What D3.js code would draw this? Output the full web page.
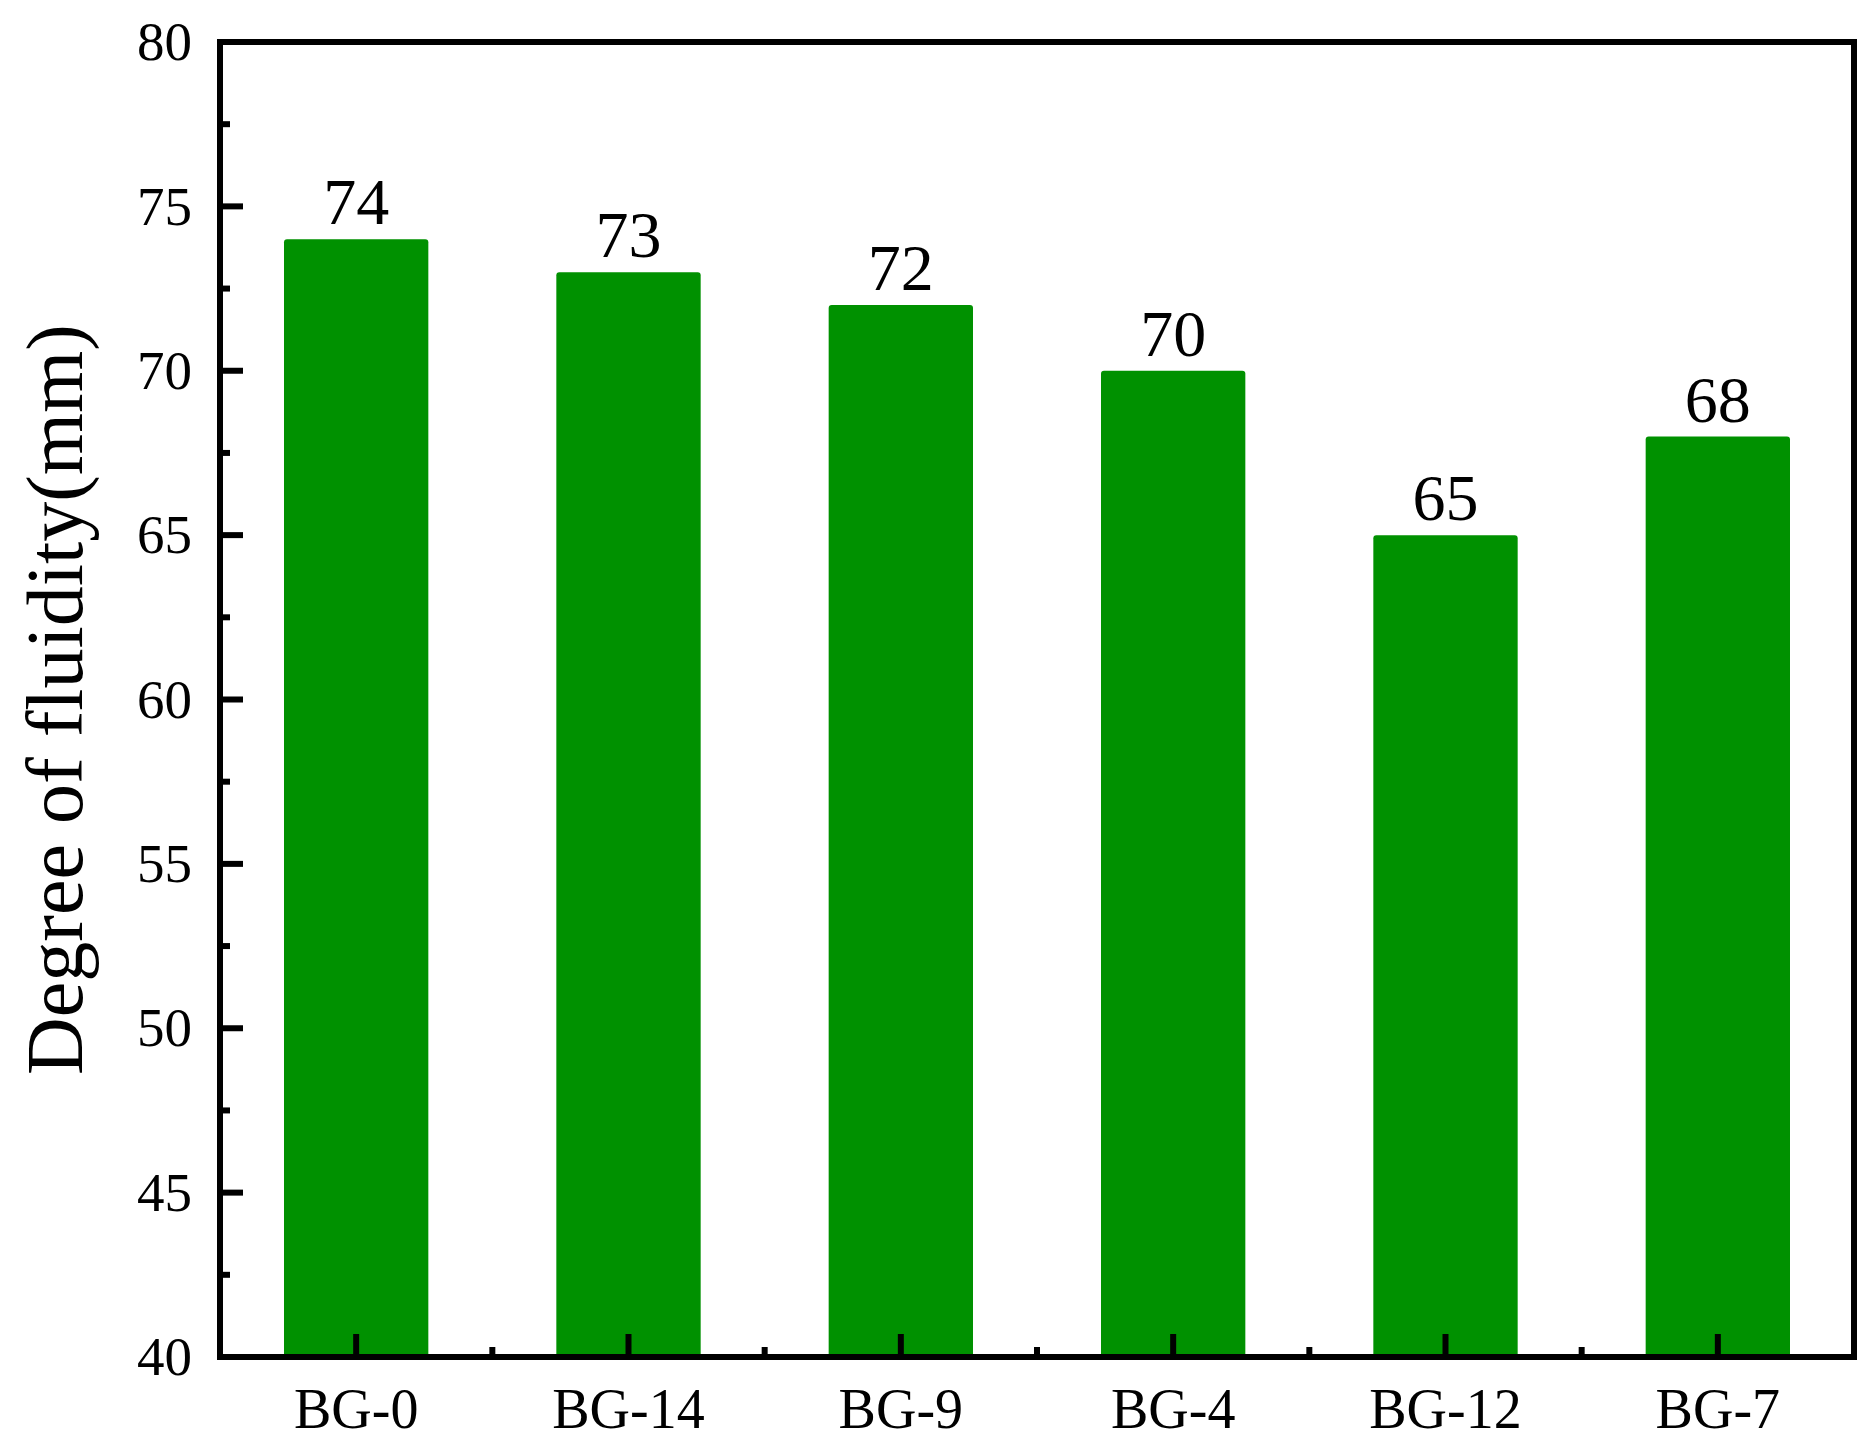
<!DOCTYPE html>
<html>
<head>
<meta charset="utf-8">
<script src="https://cdn.jsdelivr.net/npm/d3@7"></script>
<style>
  body { margin: 0; background: #fff; }
  text { font-family: "Liberation Serif", "Times New Roman", serif; fill: #000; }
</style>
</head>
<body>
<svg id="chart" width="1876" height="1451"></svg>
<script>
const categories = ['BG-0', 'BG-14', 'BG-9', 'BG-4', 'BG-12', 'BG-7'];
const fluidity = [74, 73, 72, 70, 65, 68];
const yTicks = [40, 45, 50, 55, 60, 65, 70, 75, 80];
const yMinorTicks = [42.5, 47.5, 52.5, 57.5, 62.5, 67.5, 72.5, 77.5];

const svg = d3.select('#chart');
const margin = { left: 220, right: 22, top: 42, bottom: 94 };
const W = 1876, H = 1451;

const x = d3.scaleBand()
    .domain(categories)
    .range([margin.left, W - margin.right])
    .paddingInner(0.47)
    .paddingOuter(0.235);

const y = d3.scaleLinear()
    .domain([40, 80])
    .range([H - margin.bottom, margin.top]);

const green = '#009100';

// bars
svg.append('g').selectAll('rect')
    .data(fluidity)
    .join('rect')
    .attr('x', (d, i) => x(categories[i]))
    .attr('y', d => y(d))
    .attr('width', x.bandwidth())
    .attr('height', d => y(40) - y(d))
    .attr('rx', 3)
    .attr('fill', green);

// value labels
svg.append('g').selectAll('text')
    .data(fluidity)
    .join('text')
    .attr('x', (d, i) => x(categories[i]) + x.bandwidth() / 2)
    .attr('y', d => y(d) - 15)
    .attr('text-anchor', 'middle')
    .style('font-size', '66px')
    .text(d => d);

// y axis ticks pointing inward
const yAxis = svg.append('g').attr('transform', `translate(${margin.left},0)`);
yAxis.selectAll('line.major')
    .data(yTicks)
    .join('line')
    .attr('class', 'major')
    .attr('x1', 0).attr('x2', 23)
    .attr('y1', d => y(d)).attr('y2', d => y(d))
    .attr('stroke', '#000').attr('stroke-width', 6);
yAxis.selectAll('line.minor')
    .data(yMinorTicks)
    .join('line')
    .attr('class', 'minor')
    .attr('x1', 0).attr('x2', 10)
    .attr('y1', d => y(d)).attr('y2', d => y(d))
    .attr('stroke', '#000').attr('stroke-width', 6);
yAxis.selectAll('text')
    .data(yTicks)
    .join('text')
    .attr('x', -28)
    .attr('y', d => y(d))
    .attr('dy', '0.33em')
    .attr('text-anchor', 'end')
    .style('font-size', '55px')
    .text(d => d);

// x axis ticks
const xAxis = svg.append('g').attr('transform', `translate(0,${y(40)})`);
xAxis.selectAll('line.major')
    .data(categories)
    .join('line')
    .attr('class', 'major')
    .attr('x1', d => x(d) + x.bandwidth() / 2).attr('x2', d => x(d) + x.bandwidth() / 2)
    .attr('y1', 0).attr('y2', -23)
    .attr('stroke', '#000').attr('stroke-width', 6);
xAxis.selectAll('line.minor')
    .data(categories.slice(1))
    .join('line')
    .attr('class', 'minor')
    .attr('x1', d => x(d) - x.step() * x.paddingInner() / 2)
    .attr('x2', d => x(d) - x.step() * x.paddingInner() / 2)
    .attr('y1', 0).attr('y2', -10)
    .attr('stroke', '#000').attr('stroke-width', 6);
xAxis.selectAll('text')
    .data(categories)
    .join('text')
    .attr('x', d => x(d) + x.bandwidth() / 2)
    .attr('y', 71)
    .attr('text-anchor', 'middle')
    .style('font-size', '56px')
    .text(d => d);

// frame
svg.append('rect')
    .attr('x', margin.left)
    .attr('y', margin.top)
    .attr('width', W - margin.left - margin.right)
    .attr('height', H - margin.top - margin.bottom)
    .attr('fill', 'none')
    .attr('stroke', '#000')
    .attr('stroke-width', 6);

// y title
svg.append('text')
    .attr('transform', `translate(82,${(margin.top + H - margin.bottom) / 2}) rotate(-90)`)
    .attr('text-anchor', 'middle')
    .style('font-size', '80px')
    .text('Degree of fluidity(mm)');
</script>
</body>
</html>
